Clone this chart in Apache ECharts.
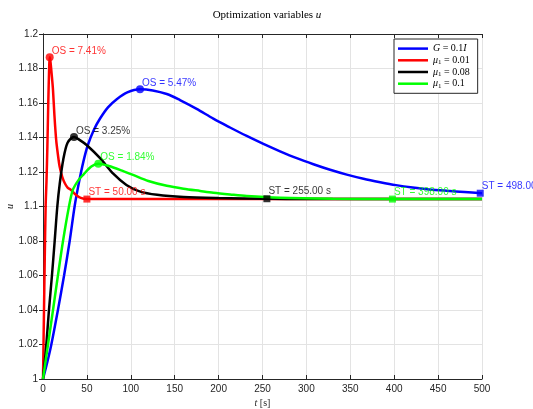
<!DOCTYPE html>
<html>
<head>
<meta charset="utf-8">
<script src="https://cdn.jsdelivr.net/npm/echarts@6/dist/echarts.min.js"></script>
<style>
  html, body { margin: 0; padding: 0; background: #fff; }
  #chart { width: 533px; height: 409px; }
</style>
</head>
<body>
<div id="chart"></div>
<script>
// curve samples: t [s] and u
const tBlue = [0, 5, 9.5, 17, 24, 30.4, 36, 41, 46, 51, 58, 65, 74, 84, 96, 110.5, 125, 141, 156, 175, 194, 213, 232, 251, 270, 289, 308, 327, 346, 365, 384, 402, 421, 440, 460, 480, 500]
const uBlue = [1, 1.01, 1.02, 1.04, 1.06, 1.08, 1.10, 1.114, 1.126, 1.1355, 1.1445, 1.151, 1.1575, 1.1622, 1.1662, 1.168, 1.1673, 1.1652, 1.1617, 1.1566, 1.1509, 1.1458, 1.1409, 1.1363, 1.132, 1.128, 1.1245, 1.1213, 1.1185, 1.1161, 1.1141, 1.1124, 1.111, 1.1099, 1.1091, 1.1084, 1.1077]

const tRed = [0, 1, 2, 3, 4, 5, 6, 7, 7.6, 8.5, 10, 11.4, 13, 15, 17, 19, 22, 25, 28, 32, 37, 43, 50, 100, 500]
const uRed = [1, 1.035, 1.07, 1.10, 1.115, 1.135, 1.16, 1.18, 1.1865, 1.184, 1.176, 1.1675, 1.153, 1.1386, 1.13, 1.123, 1.117, 1.1133, 1.111, 1.1096, 1.107, 1.105, 1.1043, 1.1043, 1.1043]

const tBlack = [0, 2, 3.8, 6.8, 10.2, 13.3, 16.3, 19, 23, 28, 35.3, 42, 50, 65, 80, 95, 110, 130, 160, 200, 255, 300, 500]
const uBlack = [1, 1.01, 1.02, 1.04, 1.06, 1.08, 1.10, 1.113, 1.127, 1.137, 1.1403, 1.1385, 1.1355, 1.128, 1.119, 1.1125, 1.1088, 1.1068, 1.1055, 1.1049, 1.1045, 1.1043, 1.1043]

const tGreen = [0, 5.7, 11.4, 17, 22.8, 29.6, 34, 40, 46, 55, 63, 75, 90, 102.5, 120, 141, 160, 179, 194, 213, 232, 270, 330, 398, 500]
const uGreen = [1, 1.02, 1.04, 1.06, 1.08, 1.10, 1.1096, 1.115, 1.1185, 1.1232, 1.1248, 1.1235, 1.1208, 1.1183, 1.1148, 1.112, 1.1103, 1.109, 1.108, 1.107, 1.1061, 1.1051, 1.1045, 1.1043, 1.1043]

// overshoot / settling markers (blue, red, black, green)
const osT = [110.5, 7.6, 35.3, 63]
const osU = [1.168, 1.1865, 1.1403, 1.1248]
const osText = ['OS = 5.47%', 'OS = 7.41%', 'OS = 3.25%', 'OS = 1.84%']
const stT = [498, 50, 255, 398]
const stU = [1.1077, 1.1043, 1.1045, 1.1043]
const stText = ['ST = 498.00 s', 'ST = 50.00 s', 'ST = 255.00 s', 'ST = 398.00 s']

const names = ['G = 0.1I', 'mu1 = 0.01', 'mu1 = 0.08', 'mu1 = 0.1']
const colors = ['#0000ff', '#ff0000', '#000000', '#00ff00']

const zip = (a, b) => a.map((v, i) => [v, b[i]])
const curves = [zip(tBlue, uBlue), zip(tRed, uRed), zip(tBlack, uBlack), zip(tGreen, uGreen)]

function legendFmt(name) {
  if (name === 'G = 0.1I') return '{i|G} = 0.1{i|I}'
  return '{i|μ}{s|1} = ' + name.split('= ')[1]
}

const axisColor = '#262626'
const sans = 'Liberation Sans'
const serif = 'Liberation Serif'

const lineSeries = curves.map((d, i) => ({
  name: names[i],
  type: 'line',
  data: d,
  symbol: 'none',
  smooth: 0.3,
  lineStyle: { color: colors[i], width: 2.5 },
  itemStyle: { color: colors[i] },
  z: 2 + i
}))

const markSeries = []
for (let i = 0; i < 4; i++) {
  markSeries.push({
    type: 'scatter',
    symbol: 'circle',
    symbolSize: 8,
    clip: false,
    itemStyle: { color: colors[i] },
    label: {
      show: true, position: 'right', distance: -2, offset: [0, -6],
      formatter: osText[i], color: colors[i], fontFamily: sans, fontSize: 10
    },
    data: [[osT[i], osU[i]]],
    z: 10
  })
  markSeries.push({
    type: 'scatter',
    symbol: 'rect',
    symbolSize: 7,
    clip: false,
    itemStyle: { color: colors[i] },
    label: {
      show: true, position: 'right', distance: -2, offset: [0, -7],
      formatter: stText[i], color: colors[i], fontFamily: sans, fontSize: 10
    },
    data: [[stT[i], stU[i]]],
    z: 10
  })
}

const chart = echarts.init(document.getElementById('chart'))
chart.setOption({
  animation: false,
  backgroundColor: '#fff',
  title: {
    text: '{n|Optimization variables }{i|u}',
    left: 262,
    textAlign: 'center',
    top: 5,
    textStyle: {
      fontWeight: 'normal',
      rich: {
        n: { fontFamily: serif, fontSize: 11, fontWeight: 'normal', color: '#000' },
        i: { fontFamily: serif, fontSize: 11, fontWeight: 'normal', fontStyle: 'italic', color: '#000' }
      }
    }
  },
  grid: { left: 43, right: 51, top: 34, bottom: 30, show: false, outerBoundsMode: 'none', containLabel: false },
  legend: {
    data: names.map(n => ({ name: n, icon: 'rect' })),
    orient: 'vertical',
    left: 394,
    top: 39,
    itemWidth: 30,
    itemHeight: 2.5,
    itemGap: 0.5,
    padding: [4, 8, 4, 4],
    borderColor: axisColor,
    borderWidth: 1,
    borderRadius: 0,
    backgroundColor: '#fff',
    formatter: legendFmt,
    textStyle: {
      fontFamily: serif, fontSize: 10, color: '#000', lineHeight: 11.2,
      rich: {
        i: { fontFamily: serif, fontSize: 10, fontStyle: 'italic', color: '#000', lineHeight: 11.2 },
        s: { fontFamily: serif, fontSize: 7, color: '#000', verticalAlign: 'bottom', lineHeight: 11.2, padding: [4, 0, 0, 0] }
      }
    }
  },
  xAxis: [{
    type: 'value',
    min: 0, max: 500, interval: 50,
    name: '{i|t} [s]',
    nameLocation: 'middle',
    nameGap: 19,
    nameMoveOverlap: false,
    nameTextStyle: {
      fontFamily: serif, fontSize: 10, color: axisColor,
      rich: { i: { fontFamily: serif, fontSize: 10, fontStyle: 'italic', color: axisColor } }
    },
    axisLine: { show: true, lineStyle: { color: axisColor, width: 1 } },
    axisTick: { show: true, inside: true, length: 4, lineStyle: { color: axisColor } },
    axisLabel: { color: axisColor, fontFamily: sans, fontSize: 10, margin: 5 },
    splitLine: { show: true, lineStyle: { color: '#e3e3e3', width: 1 } }
  }, {
    type: 'value',
    position: 'top',
    min: 0, max: 500, interval: 50,
    axisLine: { show: true, lineStyle: { color: axisColor, width: 1 } },
    axisTick: { show: true, inside: true, length: 4, lineStyle: { color: axisColor } },
    axisLabel: { show: false },
    splitLine: { show: false }
  }],
  yAxis: [{
    type: 'value',
    min: 1, max: 1.2, interval: 0.02,
    name: 'u',
    nameLocation: 'middle',
    nameGap: 28,
    nameMoveOverlap: false,
    nameTextStyle: { fontFamily: serif, fontSize: 10, fontStyle: 'italic', color: axisColor },
    axisLine: { show: true, lineStyle: { color: axisColor, width: 1 } },
    axisTick: { show: true, inside: true, length: 4, lineStyle: { color: axisColor } },
    axisLabel: { color: axisColor, fontFamily: sans, fontSize: 10, margin: 5 },
    splitLine: { show: true, lineStyle: { color: '#e3e3e3', width: 1 } }
  }, {
    type: 'value',
    position: 'right',
    min: 1, max: 1.2, interval: 0.02,
    axisLine: { show: true, lineStyle: { color: axisColor, width: 1 } },
    axisTick: { show: true, inside: true, length: 4, lineStyle: { color: axisColor } },
    axisLabel: { show: false },
    splitLine: { show: false }
  }],
  series: lineSeries.concat(markSeries)
})
</script>
</body>
</html>
